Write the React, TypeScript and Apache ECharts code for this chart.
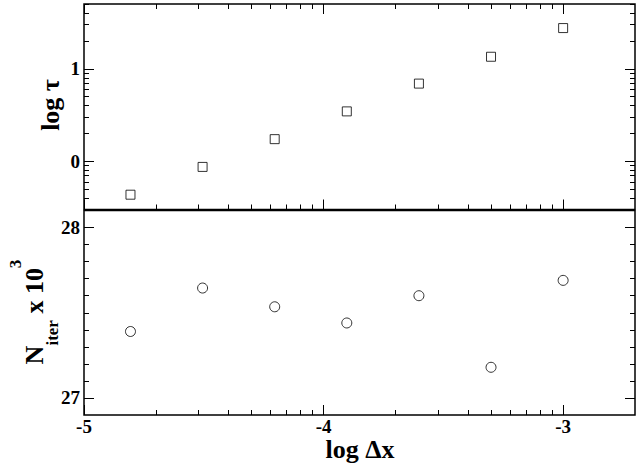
import React, { useEffect, useRef } from "react";
import * as echarts from "echarts";

const logDx = [-4.806, -4.505, -4.204, -3.903, -3.602, -3.301, -3.0];
const logTau = [-0.36, -0.06, 0.24, 0.54, 0.84, 1.13, 1.44];
const nIter = [27.39, 27.645, 27.535, 27.44, 27.6, 27.18, 27.69];

const xRange = [-5, -2.7];
const tauRange = [-0.52, 1.7];
const iterRange = [26.9, 28.1];

const xMajorTicks = [-5, -4, -3];
const xDecades = [-5, -4, -3];
const tauMajorTicks = [0, 1];
const tauDecades = [-1, 0, 1];
const iterMajorTicks = [27, 28];
const iterMinorTicks = [27.1, 27.2, 27.3, 27.4, 27.5, 27.6, 27.7, 27.8, 27.9];
const logMantissas = [2, 3, 4, 5, 6, 7, 8, 9];

const FONT = "'Liberation Serif', 'Times New Roman', serif";

function logMinor(decades: number[], range: number[]) {
  const out: number[] = [];
  decades.forEach((d) =>
    logMantissas.forEach((k) => {
      const v = d + Math.log10(k);
      if (v > range[0] + 1e-6 && v < range[1] - 1e-6) out.push(v);
    })
  );
  return out;
}

function axis(
  gridIndex: number,
  position: string,
  range: number[],
  ticks: number[],
  len: number,
  labels: boolean,
  margin = 4
) {
  return {
    type: "value",
    gridIndex,
    position,
    min: range[0],
    max: range[1],
    axisLine: { show: false, onZero: false },
    axisTick: {
      show: true,
      inside: true,
      length: len,
      customValues: ticks,
      lineStyle: { color: "#000", width: 1 },
    },
    axisLabel: labels
      ? {
          show: true,
          customValues: ticks,
          color: "#000",
          fontFamily: FONT,
          fontWeight: "bold",
          fontSize: 19,
          lineHeight: 19,
          margin,
        }
      : { show: false },
    splitLine: { show: false },
    minorTick: { show: false },
  };
}

export default function App() {
  const ref = useRef<HTMLDivElement>(null);
  useEffect(() => {
    document.body.style.margin = "0";
    const chart = echarts.init(ref.current!, null, { renderer: "svg" });
    const xMinor = logMinor(xDecades, xRange);
    const tauMinor = logMinor(tauDecades, tauRange);
    const option = {
      animation: false,
      backgroundColor: "#fff",
      grid: [
        { left: 84, top: 4, width: 551, height: 205.5, show: true, borderColor: "#000", borderWidth: 1.5, backgroundColor: "transparent" },
        { left: 84, top: 210.5, width: 551, height: 204.5, show: true, borderColor: "#000", borderWidth: 1.5, backgroundColor: "transparent" },
      ],
      xAxis: [
        axis(0, "bottom", xRange, xMajorTicks, 10, false),
        axis(0, "bottom", xRange, xMinor, 5, false),
        axis(0, "top", xRange, xMajorTicks, 10, false),
        axis(0, "top", xRange, xMinor, 5, false),
        axis(1, "bottom", xRange, xMajorTicks, 10, true, 2),
        axis(1, "bottom", xRange, xMinor, 5, false),
      ],
      yAxis: [
        axis(0, "left", tauRange, tauMajorTicks, 10, true),
        axis(0, "left", tauRange, tauMinor, 5, false),
        axis(0, "right", tauRange, tauMajorTicks, 10, false),
        axis(0, "right", tauRange, tauMinor, 5, false),
        axis(1, "left", iterRange, iterMajorTicks, 10, true),
        axis(1, "left", iterRange, iterMinorTicks, 5, false),
        axis(1, "right", iterRange, iterMajorTicks, 10, false),
        axis(1, "right", iterRange, iterMinorTicks, 5, false),
      ],
      series: [
        {
          type: "scatter",
          xAxisIndex: 0,
          yAxisIndex: 0,
          data: logDx.map((x, i) => [x, logTau[i]]),
          symbol: "rect",
          symbolSize: 9,
          itemStyle: { color: "#fff", borderColor: "#000", borderWidth: 1 },
        },
        {
          type: "scatter",
          xAxisIndex: 4,
          yAxisIndex: 4,
          data: logDx.map((x, i) => [x, nIter[i]]),
          symbol: "circle",
          symbolSize: 10,
          itemStyle: { color: "#fff", borderColor: "#000", borderWidth: 1 },
        },
      ],
      graphic: [
        {
          type: "text",
          x: 50.5,
          y: 105,
          rotation: Math.PI / 2,
          style: {
            text: "log τ",
            font: `bold 26px ${FONT}`,
            fill: "#000",
            align: "center",
            verticalAlign: "middle",
          },
        },
        {
          type: "text",
          x: 360,
          y: 449,
          style: {
            text: "log Δx",
            font: `bold 26px ${FONT}`,
            lineHeight: 24,
            fill: "#000",
            align: "center",
            verticalAlign: "middle",
          },
        },
        {
          type: "text",
          x: 34,
          y: 312,
          rotation: Math.PI / 2,
          style: {
            text: "{m|N}{s|iter}{m| x 10}{p|3}",
            align: "center",
            verticalAlign: "middle",
            rich: {
              m: { font: `bold 26px ${FONT}`, lineHeight: 54, fill: "#000" },
              s: { font: `bold 17px ${FONT}`, lineHeight: 20, verticalAlign: "bottom", fill: "#000" },
              p: { font: `bold 17px ${FONT}`, lineHeight: 26, verticalAlign: "top", fill: "#000" },
            },
          },
        },
      ],
    };
    chart.setOption(option as any);
    return () => chart.dispose();
  }, []);
  return <div ref={ref} style={{ width: 642, height: 466 }} />;
}
